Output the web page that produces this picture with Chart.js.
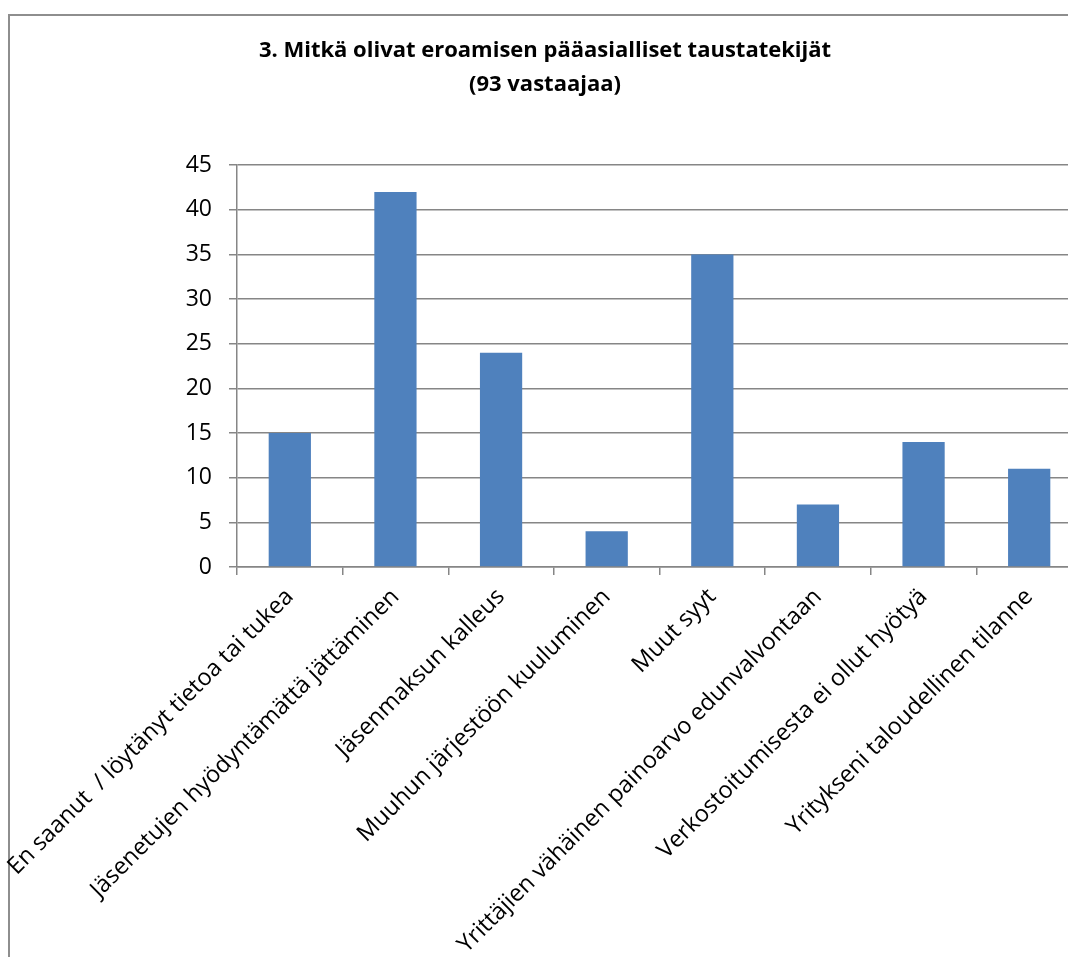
<!DOCTYPE html>
<html>
<head>
<meta charset="utf-8">
<script src="https://cdn.jsdelivr.net/npm/chart.js@4.4.1/dist/chart.umd.min.js"></script>
<style>
  html, body { margin: 0; padding: 0; background: #fff; overflow: hidden; width: 1068px; height: 957px; }
  #frame { position: absolute; left: 8px; top: 14px; width: 1200px; height: 1200px; border: 2px solid #8e8e8e; box-sizing: border-box; }
  #c { position: absolute; left: 0; top: 0; }
</style>
</head>
<body>
<div id="frame"></div>
<canvas id="c" width="1098" height="957"></canvas>
<script>
const titleLines = ["3. Mitkä olivat eroamisen pääasialliset taustatekijät", "(93 vastaajaa)"];
const categories = [
  "En saanut  / löytänyt tietoa tai tukea",
  "Jäsenetujen hyödyntämättä jättäminen",
  "Jäsenmaksun kalleus",
  "Muuhun järjestöön kuuluminen",
  "Muut syyt",
  "Yrittäjien vähäinen painoarvo edunvalvontaan",
  "Verkostoitumisesta ei ollut hyötyä",
  "Yritykseni taloudellinen tilanne"
];
const values = [15, 42, 24, 4, 35, 7, 14, 11];
const yMin = 0, yMax = 45, yStep = 5;

const FONT = "'Open Sans', 'Noto Sans', sans-serif";
const GRID = "#868686";

new Chart(document.getElementById('c'), {
  type: 'bar',
  data: {
    labels: categories,
    datasets: [{
      data: values,
      backgroundColor: '#4F81BD',
      borderWidth: 0,
      categoryPercentage: 1.0,
      barPercentage: 0.4
    }]
  },
  options: {
    responsive: false,
    devicePixelRatio: 1,
    animation: false,
    layout: { padding: { left: 8, right: 16, top: 0, bottom: 0 } },
    plugins: {
      legend: { display: false },
      tooltip: { enabled: false },
      title: {
        display: true,
        text: titleLines,
        color: '#000',
        font: { family: FONT, size: 22, weight: 'bold', lineHeight: 1.55 },
        padding: { top: 34, bottom: 63 }
      }
    },
    scales: {
      x: {
        grid: { display: true, drawOnChartArea: false, drawTicks: true, tickLength: 8, color: GRID, lineWidth: 1.5, offset: true },
        border: { display: true, color: GRID, width: 1.5 },
        ticks: {
          color: '#000',
          font: { family: FONT, size: 23.5 },
          minRotation: 45, maxRotation: 45,
          autoSkip: false,
          padding: 8
        },
        afterFit(scale) { scale.height = 390; scale.paddingLeft = 0; scale.paddingRight = 0; }
      },
      y: {
        min: yMin, max: yMax,
        grid: { color: GRID, lineWidth: 1.5, tickLength: 8 },
        border: { display: true, color: GRID, width: 1.5 },
        ticks: {
          stepSize: yStep,
          color: '#000',
          font: { family: FONT, size: 23 },
          padding: 17
        },
        afterFit(scale) { scale.width = 229; }
      }
    }
  }
});
</script>
</body>
</html>
